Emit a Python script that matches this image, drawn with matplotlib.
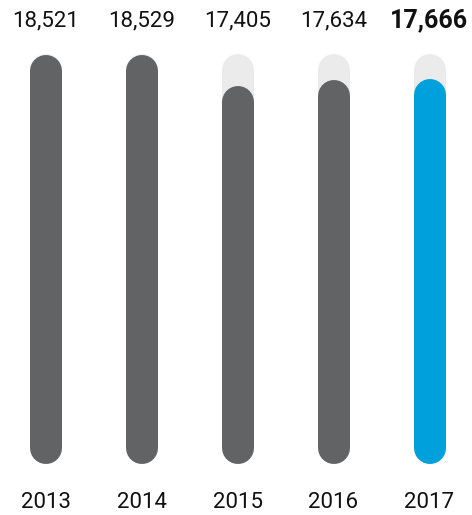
import matplotlib
matplotlib.use("Agg")
import matplotlib.pyplot as plt

years = ["2013", "2014", "2015", "2016", "2017"]
values = [18521, 18529, 17405, 17634, 17666]
value_labels = ["18,521", "18,529", "17,405", "17,634", "17,666"]
track_top = 18550
baseline = 3745

W, H, DPI = 472, 515, 100
fig = plt.figure(figsize=(W / DPI, H / DPI), dpi=DPI)
ax = fig.add_axes([0, 0, 1, 1])
ax.set_axis_off()

px_per_unit = 0.0277
units_per_px = 1 / px_per_unit
bottom_px = 515 - 464.3
ymin = baseline - bottom_px * units_per_px
ymax = ymin + H * units_per_px
ax.set_ylim(ymin, ymax)
x0 = -45.5 / 96
ax.set_xlim(x0, x0 + W / 96)

bar_px = 32
lw_pt = bar_px * 72 / DPI
r = (bar_px / 2) * units_per_px

dark = "#626365"
blue = "#00A0DC"
track = "#EBEBEB"

for i, (v, lab, yr) in enumerate(zip(values, value_labels, years)):
    ax.plot([i, i], [baseline + r, track_top - r], color=track, lw=lw_pt,
            solid_capstyle="round", zorder=1)
    col = blue if i == len(values) - 1 else dark
    ax.plot([i, i], [baseline + r, v - r], color=col, lw=lw_pt,
            solid_capstyle="round", zorder=2)
    bold = i == len(values) - 1
    ax.text(i, 1 - 20.7 / H, lab, transform=ax.get_xaxis_transform(),
            ha="center", va="center", fontsize=16 if not bold else 18,
            fontweight="bold" if bold else "normal", family="Roboto", color="#111111")
    ax.text(i, 1 - 502 / H, yr, transform=ax.get_xaxis_transform(),
            ha="center", va="center", fontsize=16, family="Roboto", color="#111111")

fig.savefig("out.png", dpi=DPI)
